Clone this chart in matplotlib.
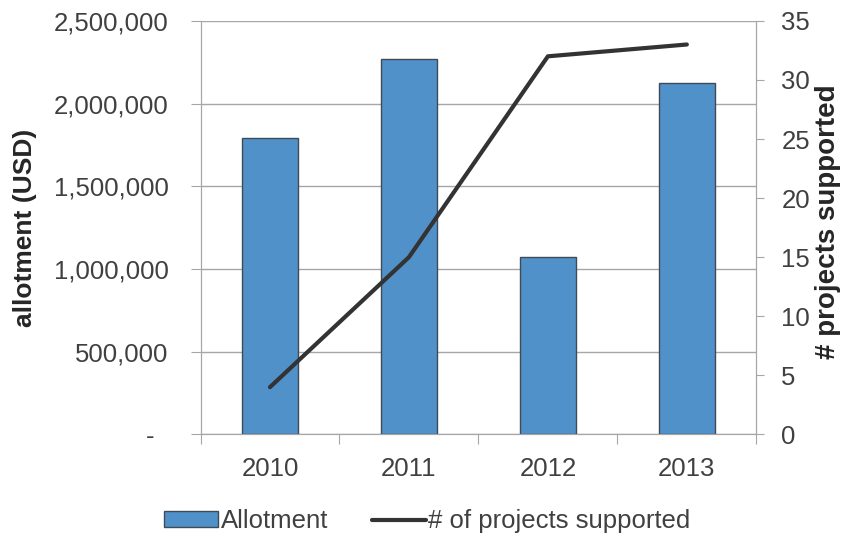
import matplotlib.pyplot as plt
import numpy as np
from matplotlib.ticker import FuncFormatter, MultipleLocator

plt.rcParams['font.family'] = ['Liberation Sans', 'DejaVu Sans']

years = ['2010', '2011', '2012', '2013']
allotment = [1790000, 2270000, 1075000, 2123000]  # USD
projects = [4, 15, 32, 33]

grey = '#a6a6a6'
text_col = '#404040'
fs = 18.5

fig = plt.figure(figsize=(8.46, 5.35), dpi=100)
ax = fig.add_axes([0.237, 0.188, 0.657, 0.773])
ax2 = ax.twinx()

x = np.arange(len(years))
ax.bar(x, allotment, width=0.4, color='#5191c9', edgecolor='#3f4a55',
       linewidth=1, zorder=3, label='Allotment')
ax2.plot(x, projects, color='#333333', lw=3, solid_capstyle='round',
         solid_joinstyle='round', zorder=4, label='# of projects supported')

ax.set_xlim(-0.5, 3.5)
ax.set_ylim(0, 2500000)
ax2.set_ylim(0, 35)
ax.yaxis.set_major_locator(MultipleLocator(500000))
ax2.yaxis.set_major_locator(MultipleLocator(5))

def usd(v, pos):
    if v == 0:
        return '-  '
    return '{:,.0f}'.format(v)

ax.yaxis.set_major_formatter(FuncFormatter(usd))
ax.grid(axis='y', color=grey, lw=1, zorder=0)
ax.set_axisbelow(True)

# category labels between the boundary tick marks
ax.set_xticks(np.arange(-0.5, 4, 1))
ax.set_xticklabels([])
ax.set_xticks(x, minor=True)
ax.set_xticklabels(years, minor=True)
ax.tick_params(axis='x', which='major', length=7, color=grey, direction='out')
ax.tick_params(axis='x', which='minor', length=0, pad=16, labelsize=fs,
               labelcolor=text_col)
ax.tick_params(axis='y', length=7, color=grey, pad=16, labelsize=fs,
               labelcolor=text_col)
ax2.tick_params(axis='y', length=6, color=grey, pad=12, labelsize=fs,
                labelcolor=text_col)

for a in (ax, ax2):
    a.spines['top'].set_visible(False)
    for s in ('left', 'right', 'bottom'):
        a.spines[s].set_color(grey)

ax.set_ylabel('allotment (USD)', fontsize=19, fontweight='bold',
              color='#262626')
ax.yaxis.set_label_coords(-0.295, 0.5)
ax2.set_ylabel('# projects supported', fontsize=20, fontweight='bold',
               color='#262626')
ax2.yaxis.set_label_coords(1.105, 0.515)

h1, l1 = ax.get_legend_handles_labels()
h2, l2 = ax2.get_legend_handles_labels()
fig.legend(h1 + h2, l1 + l2, loc='lower center', bbox_to_anchor=(0.505, -0.04),
           ncol=2, frameon=False, fontsize=fs, handlelength=2.1,
           handleheight=0.55, handletextpad=0.1, columnspacing=1.7,
           labelcolor=text_col)

fig.savefig('out.png', dpi=100)
